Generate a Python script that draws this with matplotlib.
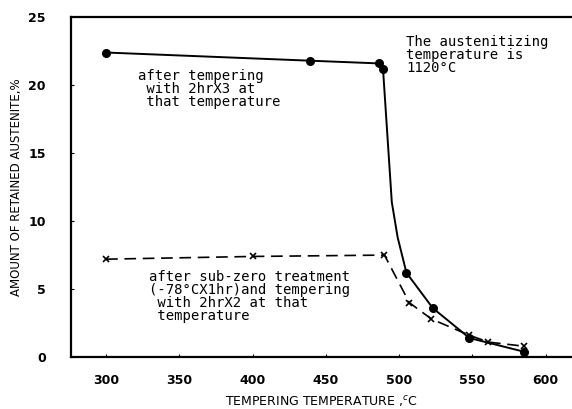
import numpy as np
import matplotlib.pyplot as plt

# solid curve: after tempering 2hr x3 (two unmarked points trace the steep drop)
temp_a = [300, 439, 486, 489, 495, 499, 505, 523, 548, 585]
aust_a = [22.4, 21.8, 21.6, 21.2, 11.4, 8.8, 6.2, 3.6, 1.4, 0.4]
marked_a = [0, 1, 2, 3, 6, 7, 8, 9]

# dashed curve: after sub-zero treatment then tempering 2hr x2
temp_b = [300, 400, 490, 507, 522, 548, 561, 585]
aust_b = [7.2, 7.4, 7.5, 4.0, 2.8, 1.6, 1.1, 0.8]

xticks = [300, 350, 400, 450, 500, 550, 600]
yticks = [0, 5, 10, 15, 20, 25]

mono = "DejaVu Sans Mono"

fig = plt.figure(figsize=(5.72, 4.09), dpi=100)
ax = fig.add_axes([0.124, 0.127, 0.876, 0.831])

ax.plot(temp_a, aust_a, "-", color="black", lw=1.4, marker="o", ms=5.5,
        markevery=marked_a)
ax.plot(temp_b, aust_b, "--", color="black", lw=1.2, marker="x", ms=4,
        mew=1.2, dashes=(7, 4))

ax.set_xlim(276, 618)
ax.set_ylim(0, 24.7)
ax.set_xticks(xticks)
ax.set_yticks(yticks)
ax.tick_params(direction="in", length=2, labelsize=9, pad=12)
ax.tick_params(axis="y", pad=18)
for lab in ax.get_xticklabels() + ax.get_yticklabels():
    lab.set_fontweight("bold")
ax.spines["right"].set_visible(False)
for s in ["left", "bottom", "top"]:
    ax.spines[s].set_linewidth(1.6)

ax.set_xlabel("TEMPERING TEMPERATURE ,$^c$C", fontsize=9, labelpad=5)
ax.set_ylabel("AMOUNT OF RETAINED AUSTENITE,%", fontsize=8.5, labelpad=4)

ax.text(322, 21.2, "after tempering\n with 2hrX3 at\n that temperature",
        family=mono, fontsize=10, va="top", ha="left", linespacing=0.9)
ax.text(505, 23.7, "The austenitizing\ntemperature is\n1120\u00b0C",
        family=mono, fontsize=10, va="top", ha="left", linespacing=0.9)
ax.text(329, 6.4, "after sub-zero treatment\n(-78\u00b0CX1hr)and tempering\n"
        " with 2hrX2 at that\n temperature",
        family=mono, fontsize=10, va="top", ha="left", linespacing=0.9)

fig.savefig("out.png", dpi=100)
